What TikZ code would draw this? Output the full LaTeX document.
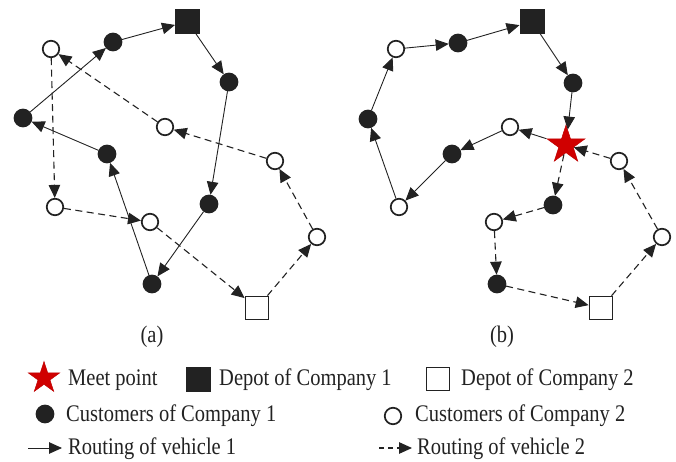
\documentclass[tikz,border=0pt]{standalone}
\usepackage{fontspec}
\setmainfont{Liberation Serif}
\usetikzlibrary{arrows.meta,shapes.geometric}
\definecolor{dk}{HTML}{222222}
\definecolor{redstar}{HTML}{D00000}
\newcommand{\Tx}[1]{\scalebox{1}[1.16]{#1}}
\begin{document}
\begin{tikzpicture}[x=1pt,y=-1pt,
 cust1/.style={circle,fill=dk,draw=dk,line width=1.2pt,minimum size=17.5pt,inner sep=0pt},
 cust2/.style={circle,fill=white,draw=dk,line width=1.7pt,minimum size=16.5pt,inner sep=0pt},
 dep1/.style={rectangle,fill=dk,draw=dk,line width=1pt,minimum size=24pt,inner sep=0pt},
 dep2/.style={rectangle,fill=white,draw=dk,line width=1.7pt,minimum size=23pt,inner sep=0pt},
 meet/.style={star,star points=5,star point ratio=2.618,fill=redstar,draw=red!75!black,line width=0.5pt,minimum size=40pt,inner sep=0pt},
 r1/.style={draw=dk,line width=0.9pt,-{Triangle[length=13pt,width=11.5pt]}},
 r2/.style={r1,line width=1.1pt,dash pattern=on 7pt off 4.5pt},
 lbl/.style={font=\fontsize{20.5}{24}\selectfont,inner sep=0pt,anchor=base west,text=dk}]
\useasboundingbox (0,0) rectangle (676,462);

% ---------- panel (a) ----------
\node[dep1] (a0) at (187.5,21.5) {};
\node[cust1] (A1) at (113,42) {};
\node[cust1] (A2) at (229,82) {};
\node[cust1] (A3) at (23,118) {};
\node[cust1] (A4) at (107,154) {};
\node[cust1] (A5) at (209,204) {};
\node[cust1] (A6) at (152,284) {};
\node[cust2] (B1) at (51,49) {};
\node[cust2] (B2) at (165,127) {};
\node[cust2] (B3) at (275,161) {};
\node[cust2] (B4) at (55,207) {};
\node[cust2] (B5) at (150,222) {};
\node[cust2] (B6) at (317,237) {};
\node[dep2] (ad) at (257,308) {};

\draw[r1] (a0) -- (A2);
\draw[r1] (A2) -- (A5);
\draw[r1] (A5) -- (A6);
\draw[r1] (A6) -- (A4);
\draw[r1] (A4) -- (A3);
\draw[r1] (A3) -- (A1);
\draw[r1] (A1) -- (a0);
\draw[r2] (ad) -- (B6);
\draw[r2] (B6) -- (B3);
\draw[r2] (B3) -- (B2);
\draw[r2] (B2) -- (B1);
\draw[r2] (B1) -- (B4);
\draw[r2] (B4) -- (B5);
\draw[r2] (B5) -- (ad);

% ---------- panel (b) ----------
\node[dep1] (b0) at (532,21.5) {};
\node[cust1] (C1) at (458,43) {};
\node[cust1] (C2) at (573,83) {};
\node[cust1] (C3) at (368,119) {};
\node[cust1] (C4) at (452,154) {};
\node[cust1] (C5) at (553,205) {};
\node[cust1] (C6) at (497,284) {};
\node[cust2] (D1) at (396,49) {};
\node[cust2] (D2) at (510,127) {};
\node[cust2] (D3) at (619,161) {};
\node[cust2] (D4) at (399,207) {};
\node[cust2] (D5) at (494,222) {};
\node[cust2] (D6) at (662,237) {};
\node[meet] (S) at (566,145) {};
\node[dep2] (bd) at (601,308) {};

\draw[r1] (b0) -- (C2);
\draw[r1] (C2) -- (S);
\draw[r1] (S) -- (D2);
\draw[r1] (D2) -- (C4);
\draw[r1] (C4) -- (D4);
\draw[r1] (D4) -- (C3);
\draw[r1] (C3) -- (D1);
\draw[r1] (D1) -- (C1);
\draw[r1] (C1) -- (b0);
\draw[r2] (bd) -- (D6);
\draw[r2] (D6) -- (D3);
\draw[r2] (D3) -- (S);
\draw[r2] (S) -- (C5);
\draw[r2] (C5) -- (D5);
\draw[r2] (D5) -- (C6);
\draw[r2] (C6) -- (bd);

% ---------- captions ----------
\node[lbl,anchor=base] (capa) at (152,342) {\Tx{(a)}};
\node[lbl,anchor=base] (capb) at (502,342) {\Tx{(b)}};

% ---------- legend ----------
\node[meet,minimum size=33pt] (lstar) at (44,378) {};
\node[lbl] (tstar) at (68,385) {\Tx{Meet point}};
\node[dep1] (ldep1) at (198,379) {};
\node[lbl] (tdep1) at (219,385) {\Tx{Depot of Company 1}};
\node[dep2] (ldep2) at (438,379) {};
\node[lbl] (tdep2) at (461,385) {\Tx{Depot of Company 2}};
\node[cust1] (lc1) at (45,414) {};
\node[lbl] (tc1) at (66,421) {\Tx{Customers of Company 1}};
\node[cust2] (lc2) at (393,416) {};
\node[lbl] (tc2) at (415,421) {\Tx{Customers of Company 2}};
\coordinate (l1s) at (28,448);
\coordinate (l1e) at (62,448);
\draw[r1] (l1s) -- (l1e);
\node[lbl] (tr1) at (68,454) {\Tx{Routing of vehicle 1}};
\coordinate (l2s) at (379,448);
\coordinate (l2e) at (412,448);
\draw[r2,dash pattern=on 5pt off 4pt] (l2s) -- (l2e);
\node[lbl] (tr2) at (417,454) {\Tx{Routing of vehicle 2}};
\end{tikzpicture}
\end{document}
